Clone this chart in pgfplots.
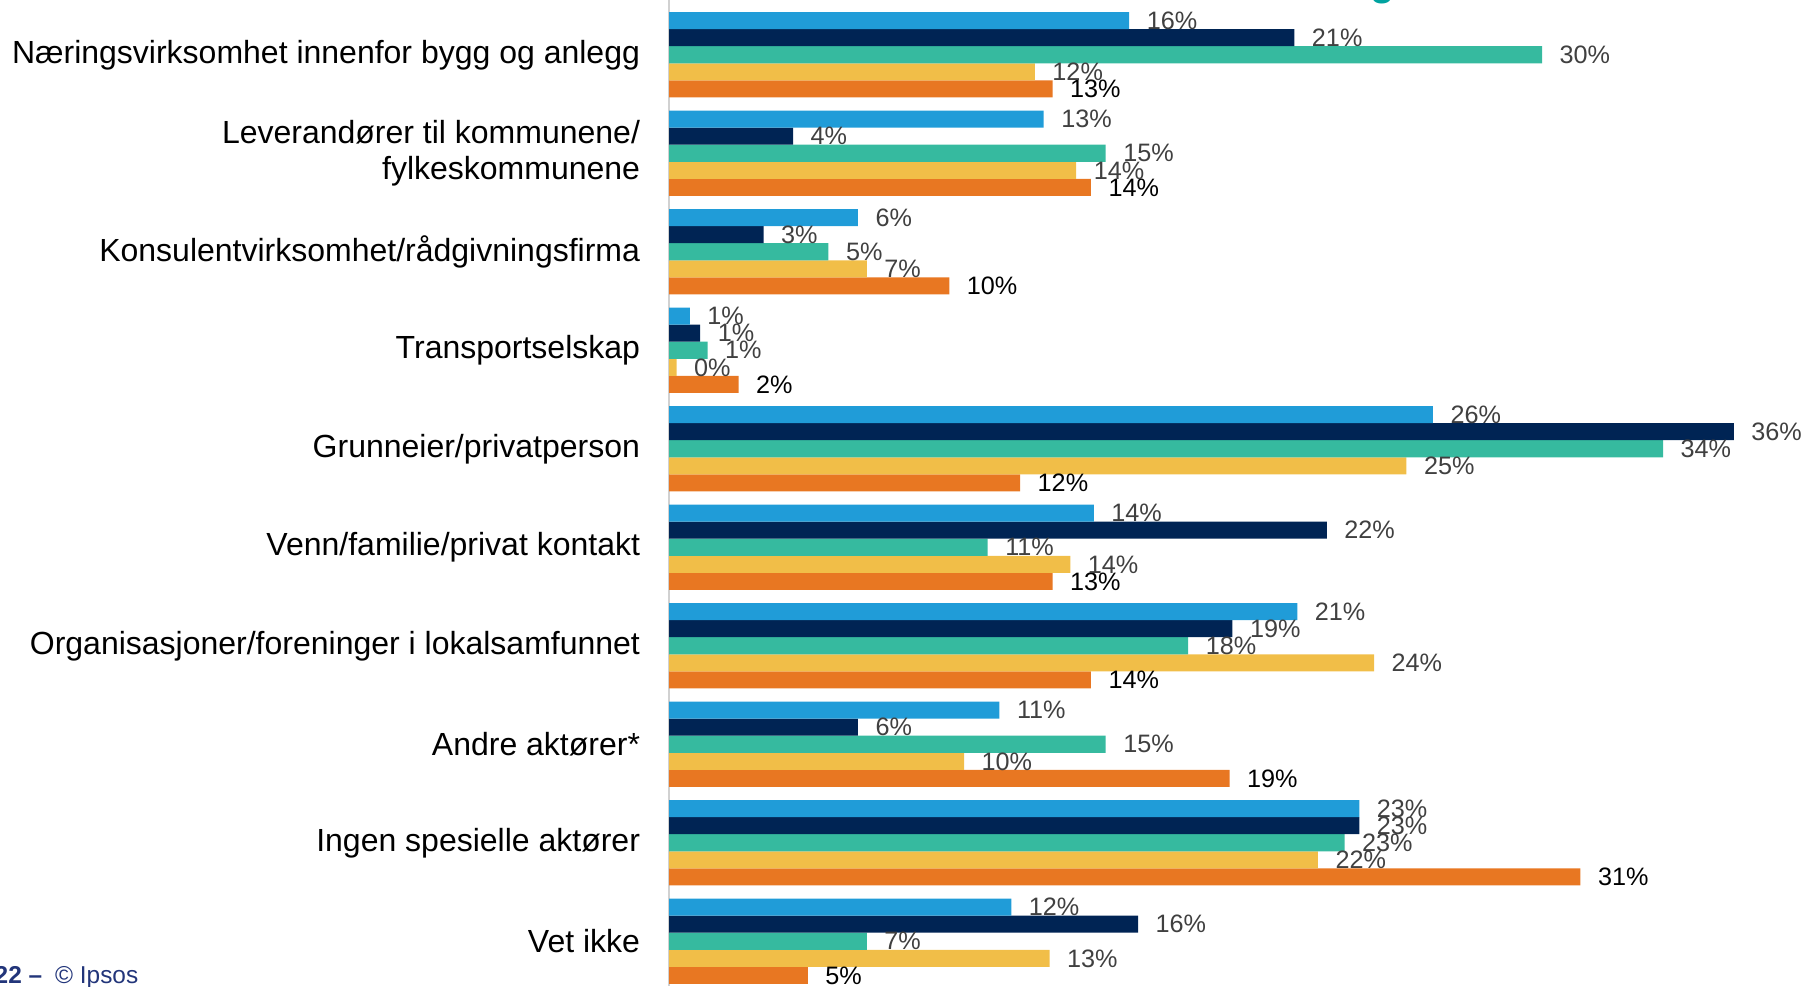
\documentclass[border=0pt]{standalone}
\usepackage{fontspec}
\setmainfont{Liberation Sans}
\usepackage{pgfplots}
\pgfplotsset{compat=1.18}

\definecolor{ipsblue}{HTML}{209CD8}
\definecolor{ipsnavy}{HTML}{002454}
\definecolor{ipsteal}{HTML}{36BA9F}
\definecolor{ipsyellow}{HTML}{F1BE48}
\definecolor{ipsorange}{HTML}{E87722}
\definecolor{labgray}{HTML}{404040}
\definecolor{titleteal}{HTML}{00A3A0}
\definecolor{footnavy}{HTML}{22357A}

\begin{document}
\begin{tikzpicture}
\begin{axis}[
    at={(167.3pt,0pt)}, anchor=south west,
    scale only axis,
    width=284.2pt, height=246.5pt,
    xbar=0pt,
    bar width=4.27pt,
    xmin=0, xmax=38.55,
    ymin=-0.5558, ymax=9.4543,
    y dir=reverse,
    ytick={0,...,9},
    yticklabels={
        Næringsvirksomhet innenfor bygg og anlegg,
        {Leverandører til kommunene/\\fylkeskommunene},
        Konsulentvirksomhet/rådgivningsfirma,
        Transportselskap,
        Grunneier/privatperson,
        Venn/familie/privat kontakt,
        Organisasjoner/foreninger i lokalsamfunnet,
        Andre aktører*,
        Ingen spesielle aktører,
        Vet ikke},
    yticklabel style={font=\fontsize{8}{9.2}\selectfont, align=right,
        anchor=east, inner sep=0pt, xshift=-7.1pt},
    axis x line=none,
    axis y line*=left,
    y axis line style={draw=black!18, line width=0.5pt},
    major tick length=0pt,
    clip=false,
    point meta=explicit symbolic,
    nodes near coords,
    every node near coord/.append style={font=\fontsize{6.3}{7}\selectfont,
        text=labgray, anchor=west, inner sep=0pt, xshift=4.2pt},
]
% plotted bottom-to-top within each group (orange first) so blue ends up on top
% series 5 (black labels)
\addplot[fill=ipsorange, draw=none,
    nodes near coords={\textcolor{black}{\pgfplotspointmeta}}] coordinates {
    (13.0,0) [13\%] (14.3,1) [14\%] (9.5,2) [10\%] (2.35,3) [2\%]
    (11.9,4) [12\%] (13.0,5) [13\%] (14.3,6) [14\%] (19.0,7) [19\%]
    (30.9,8) [31\%] (4.7,9) [5\%]
};
% series 4
\addplot[fill=ipsyellow, draw=none] coordinates {
    (12.4,0) [12\%] (13.8,1) [14\%] (6.7,2) [7\%] (0.25,3) [0\%]
    (25.0,4) [25\%] (13.6,5) [14\%] (23.9,6) [24\%] (10.0,7) [10\%]
    (22.0,8) [22\%] (12.9,9) [13\%]
};
% series 3
\addplot[fill=ipsteal, draw=none] coordinates {
    (29.6,0) [30\%] (14.8,1) [15\%] (5.4,2) [5\%] (1.3,3) [1\%]
    (33.7,4) [34\%] (10.8,5) [11\%] (17.6,6) [18\%] (14.8,7) [15\%]
    (22.9,8) [23\%] (6.7,9) [7\%]
};
% series 2
\addplot[fill=ipsnavy, draw=none] coordinates {
    (21.2,0) [21\%] (4.2,1) [4\%] (3.2,2) [3\%] (1.05,3) [1\%]
    (36.1,4) [36\%] (22.3,5) [22\%] (19.1,6) [19\%] (6.4,7) [6\%]
    (23.4,8) [23\%] (15.9,9) [16\%]
};
% series 1
\addplot[fill=ipsblue, draw=none] coordinates {
    (15.6,0) [16\%] (12.7,1) [13\%] (6.4,2) [6\%] (0.7,3) [1\%]
    (25.9,4) [26\%] (14.4,5) [14\%] (21.3,6) [21\%] (11.2,7) [11\%]
    (23.4,8) [23\%] (11.6,9) [12\%]
};
\end{axis}

% cut-off bits of the slide around the chart
\node[anchor=base, inner sep=0pt, text=titleteal,
    font=\bfseries\fontsize{10}{12}\selectfont] at (345.75pt,247.6pt) {g};
\node[anchor=base east, inner sep=0pt, text=footnavy,
    font=\bfseries\fontsize{6.1}{7}\selectfont] at (10.75pt,0.75pt) {2022 –};
\node[anchor=base west, inner sep=0pt, text=footnavy,
    font=\fontsize{6.1}{7}\selectfont] at (13.6pt,0.75pt) {© Ipsos};

\pgfresetboundingbox
\useasboundingbox (0pt,0pt) rectangle (451.5pt,246.5pt);
\end{tikzpicture}
\end{document}
